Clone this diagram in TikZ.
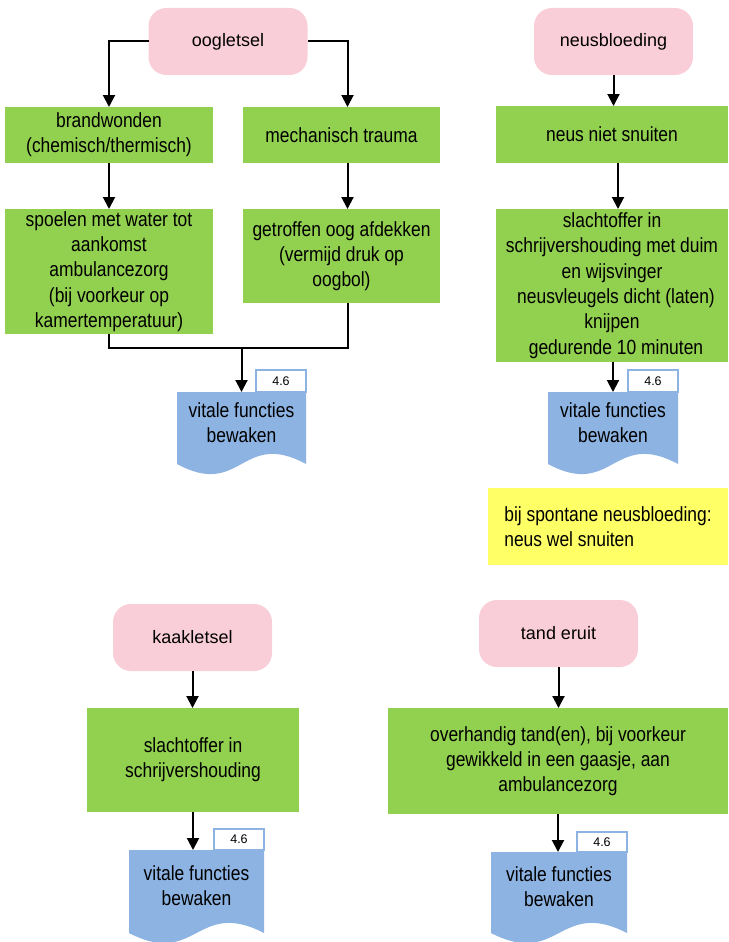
\documentclass[tikz,border=0pt]{standalone}
\usepackage{fontspec}
\setmainfont{Liberation Sans}[FakeStretch=0.85]
\newfontfamily\pinkfont{Liberation Sans}
\usetikzlibrary{arrows.meta,backgrounds,calc}
\definecolor{pinkc}{HTML}{F9CED9}
\definecolor{greenc}{HTML}{92D050}
\definecolor{bluec}{HTML}{8DB3E2}
\definecolor{yellowc}{HTML}{FFFF66}
\newcommand\gfont{\fontsize{20.5pt}{25.3pt}\selectfont}
\newcommand\pfont{\pinkfont\fontsize{18pt}{22pt}\selectfont}
\newcommand\tfont{\pinkfont\fontsize{12.5pt}{14pt}\selectfont}
\begin{document}
\begin{tikzpicture}[x=1pt,y=-1pt,
  base/.style={inner sep=0pt, outer sep=0pt, align=center},
  startbox/.style={base, fill=pinkc, rounded corners=18pt, font=\pfont, minimum width=159pt, minimum height=67pt},
  actbox/.style={base, fill=greenc, font=\gfont},
  notebox/.style={base, fill=yellowc, font=\gfont, align=left},
  docnode/.style={base, font=\gfont, text depth=11.5pt},
  tagbox/.style={base, draw=bluec, line width=1.2pt, fill=white, font=\tfont, minimum width=50pt},
  arr/.style={line width=2pt, -{Triangle[length=12pt,width=12pt]}},
  ln/.style={line width=2pt},
  docfill/.style={fill=bluec}
]
\useasboundingbox (0,0) rectangle (728,942);

% oogletsel
\node[startbox] (oog) at (228,41.5) {oogletsel};
\node[actbox, minimum width=208pt, minimum height=56pt] (brand) at (109,135) {brandwonden\\(chemisch/thermisch)};
\node[actbox, minimum width=197pt, minimum height=56pt] (mech) at (341.5,135) {mechanisch trauma};
\node[actbox, minimum width=208pt, minimum height=125pt] (spoel) at (109,271.5) {spoelen met water tot\\aankomst\\ambulancezorg\\(bij voorkeur op\\kamertemperatuur)};
\node[actbox, minimum width=197pt, minimum height=94pt] (getr) at (341.5,256) {getroffen oog afdekken\\(vermijd druk op\\oogbol)};
\node[docnode, minimum width=129pt, minimum height=72pt] (doc1) at (241.5,428) {vitale functies\\bewaken};
\node[tagbox, minimum height=22pt, anchor=south east] (tag1) at (doc1.north east) {4.6};

% neusbloeding
\node[startbox] (neus) at (613.5,41.5) {neusbloeding};
\node[actbox, minimum width=232pt, minimum height=57pt] (niet) at (612,134.5) {neus niet snuiten};
\node[actbox, minimum width=232pt, minimum height=153pt] (slacht) at (612,285.5) {slachtoffer in\\schrijvershouding met duim\\en wijsvinger\\\hspace*{8pt}neusvleugels dicht (laten)\\knijpen\\\hspace*{8pt}gedurende 10 minuten};
\node[docnode, minimum width=130pt, minimum height=72pt] (doc2) at (613,428) {vitale functies\\bewaken};
\node[tagbox, minimum height=22pt, anchor=south east] (tag2) at (doc2.north east) {4.6};
\node[notebox, minimum width=240pt, minimum height=77pt] (note) at (608,526.5) {bij spontane neusbloeding:\\neus wel snuiten};

% kaakletsel
\node[startbox] (kaak) at (192.5,637.5) {kaakletsel};
\node[actbox, minimum width=212pt, minimum height=104pt] (kgreen) at (193,760) {slachtoffer in\\schrijvershouding};
\node[docnode, minimum width=135pt, minimum height=83pt] (doc3) at (196.5,891.5) {vitale functies\\bewaken};
\node[tagbox, minimum height=21pt, anchor=south east] (tag3) at (doc3.north east) {4.6};

% tand eruit
\node[startbox] (tand) at (558.5,633.5) {tand eruit};
\node[actbox, minimum width=340pt, minimum height=106pt] (tgreen) at (558,761) {overhandig tand(en), bij voorkeur\\gewikkeld in een gaasje, aan\\ambulancezorg};
\node[docnode, minimum width=136pt, minimum height=81pt] (doc4) at (559,892.5) {vitale functies\\bewaken};
\node[tagbox, minimum height=20pt, anchor=south east] (tag4) at (doc4.north east) {4.6};

% document shapes
\begin{scope}[on background layer]
\foreach \d in {doc1,doc2,doc3,doc4}{
  \fill[docfill] (\d.north west) -- (\d.north east) -- (\d.south east)
    .. controls ($(\d.south)+(0,-35)$) and ($(\d.south)+(0,35)$) .. (\d.south west) -- cycle;
}
\end{scope}

% connectors
\draw[arr] (oog.west) -| (brand.north);
\draw[arr] (oog.east) -| ([xshift=6pt]mech.north);
\draw[arr] (brand.south) -- (spoel.north);
\draw[arr] ([xshift=6pt]mech.south) -- ([xshift=6pt]getr.north);
\coordinate (j) at (241.5,348);
\draw[ln] (spoel.south) |- (j) -| ([xshift=6pt]getr.south);
\draw[arr] (j) -- (doc1.north);

\draw[arr] (neus.south) -- (neus.south |- niet.north);
\draw[arr] ([xshift=6pt]niet.south) -- ([xshift=6pt]niet.south |- slacht.north);
\draw[arr] (doc2.north |- slacht.south) -- (doc2.north);

\draw[arr] (kaak.south) -- (kaak.south |- kgreen.north);
\draw[arr] (kgreen.south) -- (kgreen.south |- doc3.north);
\draw[arr] (tand.south) -- (tand.south |- tgreen.north);
\draw[arr] (tgreen.south) -- (tgreen.south |- doc4.north);
\end{tikzpicture}
\end{document}
